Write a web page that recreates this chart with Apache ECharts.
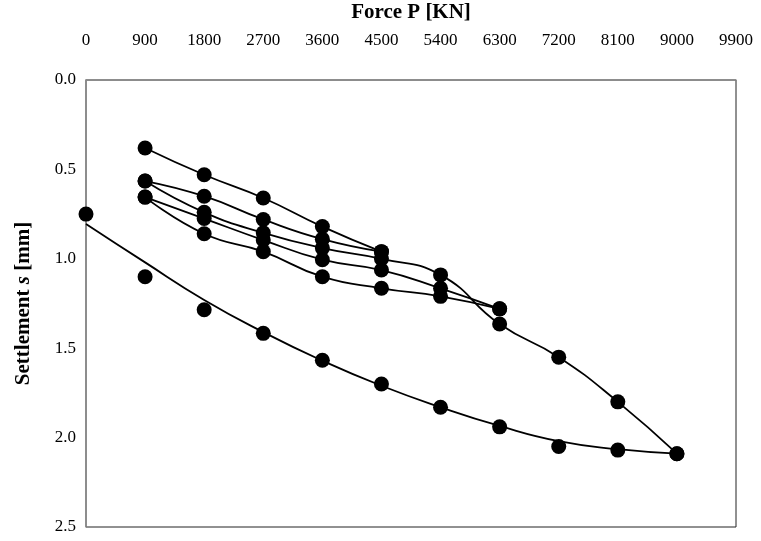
<!DOCTYPE html>
<html>
<head>
<meta charset="utf-8">
<script src="https://cdn.jsdelivr.net/npm/echarts@6/dist/echarts.min.js"></script>
<style>
  html, body { margin: 0; padding: 0; background: #fff; }
  #chart { width: 761px; height: 541px; }
</style>
</head>
<body>
<div id="chart"></div>
<script>
// tick labels
const forceTicks = [0, 900, 1800, 2700, 3600, 4500, 5400, 6300, 7200, 8100, 9000, 9900];
const settleTicks = [0.0, 0.5, 1.0, 1.5, 2.0, 2.5];

// loading 900 -> 4500
const loadA = [900, 1800, 2700, 3600, 4500];
const settleA = [0.38, 0.53, 0.66, 0.82, 0.96];
// unloading 4500 -> 900
const loadB = [4500, 3600, 2700, 1800, 900];
const settleB = [0.96, 0.89, 0.78, 0.65, 0.565];
// reloading 900 -> 9000
const loadC = [900, 1800, 2700, 3600, 4500, 5400, 6300, 7200, 8100, 9000];
const settleC = [0.565, 0.74, 0.855, 0.94, 1.0, 1.09, 1.365, 1.55, 1.8, 2.09];
// unloading 6300 -> 900
const loadD = [6300, 5400, 4500, 3600, 2700, 1800, 900];
const settleD = [1.28, 1.21, 1.165, 1.1, 0.96, 0.86, 0.655];
// reloading 900 -> 6300
const loadE = [900, 1800, 2700, 3600, 4500, 5400, 6300];
const settleE = [0.655, 0.775, 0.895, 1.005, 1.063, 1.165, 1.28];
// unloading 9000 -> 0 (measured points)
const loadF = [9000, 8100, 7200, 6300, 5400, 4500, 3600, 2700, 1800, 900, 0];
const settleF = [2.09, 2.07, 2.05, 1.94, 1.83, 1.7, 1.567, 1.417, 1.285, 1.1, 0.75];
// trend line of the unloading branch
const trendLoad = [0, 900, 1800, 2700, 3600, 4500, 5400, 6300, 7200, 8100, 9000];
const trendSettle = [0.805, 1.02, 1.23, 1.41, 1.57, 1.71, 1.83, 1.935, 2.02, 2.065, 2.09];

const font = "Liberation Serif";
const pair = (xs, ys) => xs.map((x, i) => [x, ys[i]]);

const curves = [
  pair(loadA, settleA),
  pair(loadB, settleB),
  pair(loadC, settleC),
  pair(loadD, settleD),
  pair(loadE, settleE),
  pair(trendLoad, trendSettle),
];
const points = [].concat(
  pair(loadA, settleA), pair(loadB, settleB), pair(loadC, settleC),
  pair(loadD, settleD), pair(loadE, settleE), pair(loadF, settleF)
);

const mychart = echarts.init(document.getElementById("chart"));
mychart.setOption({
  animation: false,
  grid: {
    left: 86,
    right: 25,
    top: 80,
    bottom: 14,
    outerBoundsMode: "none",
    show: true,
    borderColor: "#222",
    borderWidth: 1,
  },
  xAxis: {
    type: "value",
    position: "top",
    min: forceTicks[0],
    max: forceTicks[forceTicks.length - 1],
    interval: 900,
    name: "Force P [KN]",
    nameLocation: "middle",
    nameGap: 57,
    nameTextStyle: { fontFamily: font, fontWeight: "bold", fontSize: 21, color: "#000" },
    axisLine: { show: true, lineStyle: { color: "#8c8c8c", width: 1.5 } },
    axisTick: { show: false },
    splitLine: { show: false },
    axisLabel: {
      fontFamily: font,
      fontSize: 17,
      color: "#000",
      margin: 31,
      formatter: (v) => String(v),
    },
  },
  yAxis: {
    type: "value",
    inverse: true,
    min: settleTicks[0],
    max: settleTicks[settleTicks.length - 1],
    interval: 0.5,
    name: "{b|Settlement }{i|s}{b| [mm]}",
    nameLocation: "middle",
    nameGap: 52,
    nameTextStyle: {
      rich: {
        b: { fontFamily: font, fontWeight: "bold", fontSize: 21, color: "#000" },
        i: { fontFamily: font, fontWeight: "bold", fontStyle: "italic", fontSize: 21, color: "#000" },
      },
    },
    axisLine: { show: true, lineStyle: { color: "#8c8c8c", width: 1.5 } },
    axisTick: { show: false },
    splitLine: { show: false },
    axisLabel: {
      fontFamily: font,
      fontSize: 17,
      color: "#000",
      margin: 10,
      formatter: (v) => v.toFixed(1),
    },
  },
  series: curves
    .map((d) => ({
      type: "line",
      data: d,
      smooth: 0.5,
      symbol: "none",
      lineStyle: { color: "#000", width: 1.8 },
      z: 2,
    }))
    .concat([
      {
        type: "scatter",
        data: points,
        symbol: "circle",
        symbolSize: 15,
        itemStyle: { color: "#000", opacity: 1 },
        z: 3,
      },
    ]),
});
</script>
</body>
</html>
